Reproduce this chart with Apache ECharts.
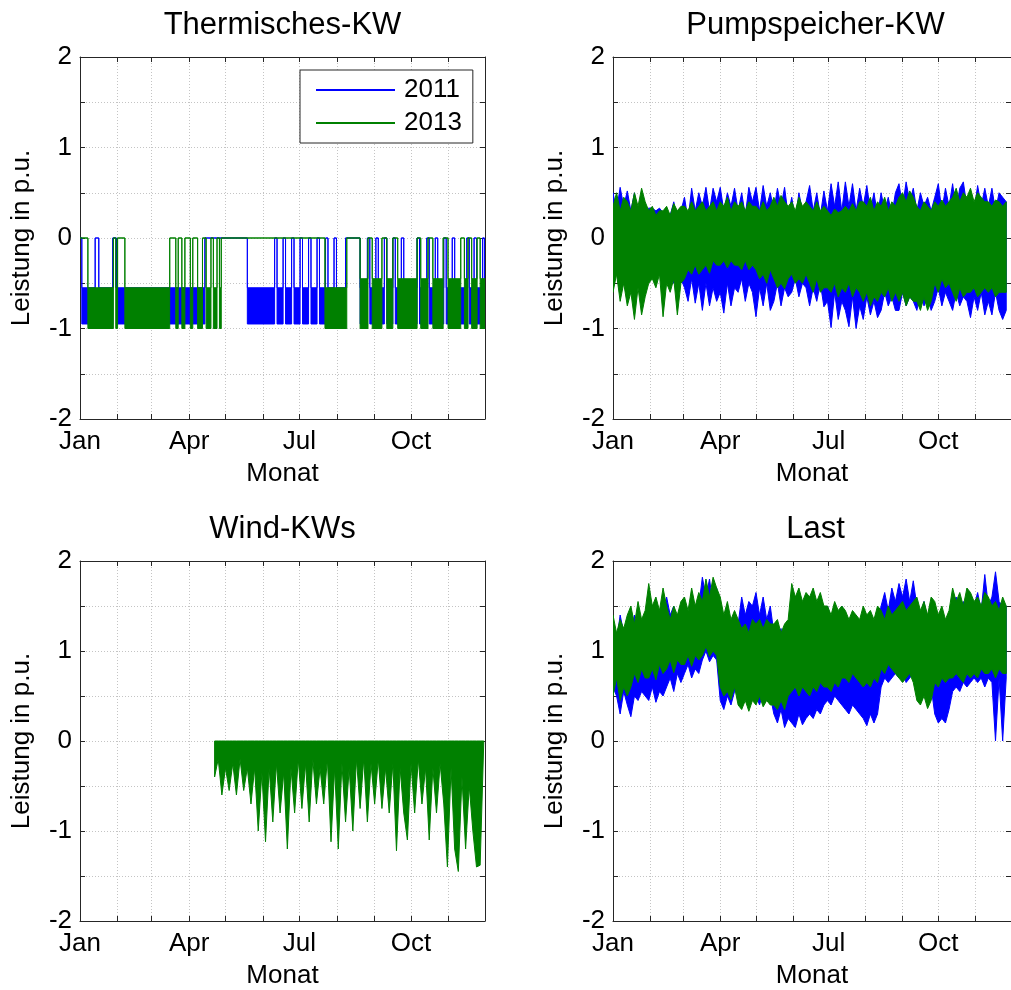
<!DOCTYPE html>
<html><head><meta charset="utf-8">
<script src="https://cdn.jsdelivr.net/npm/echarts@6/dist/echarts.min.js"></script>
<style>html,body{margin:0;padding:0;overflow:hidden;background:#fff}#chart{width:1011px;height:990px}</style>
</head><body><div id="chart"></div>
<script>
// ---------- axis data ----------
const monthTickDays = [0,31,59,90,120,151,181,212,243,273,304,334];
const monthLabelDays = [0,90,181,273];
const monthLabelNames = ['Jan','Apr','Jul','Oct'];
const plotTitles = ['Thermisches-KW','Pumpspeicher-KW','Wind-KWs','Last'];
const seriesNames = ['2011','2013'];
const xAxisName = 'Monat';
const yAxisName = 'Leistung in p.u.';

// ---------- Thermisches-KW (transition day, level from that day on) ----------
const therm2011Days = [0,1.5,12.5,15.5,27,30,103,138,160.5,162.5,167.5,169.5,174.5,176.5,181.5,183.5,188.5,190.5,195.5,197.5,202.5,204.5,209.5,211.5,219,231,237,239,244,246,251,253,258,260,265,267,278,280,286,288,293,295,300,302,307,309,319,321,325,327,332,333.5,334];
const therm2011Hi = [0,-.55,0,-.55,0,-.55,0,-.55, 0,-.55,0,-.55,0,-.55,0,-.55,0,-.55,0,-.55,0,-.55,0,-.55, 0,-.55,0,-.55,0,-.55,0,-.55,0,-.55,0,-.55, 0,-.55,0,-.55,0,-.55,0,-.55,0,-.55, 0,-.55,0,-.55, 0,-.55,-.55];
const therm2011Lo = [0,-.95,0,-.95,0,-.95,0,-.95, 0,-.95,0,-.95,0,-.95,0,-.95,0,-.95,0,-.95,0,-.95,0,-.95, 0,-.95,0,-.95,0,-.95,0,-.95,0,-.95,0,-.95, 0,-.95,0,-.95,0,-.95,0,-.95,0,-.95, 0,-.95,0,-.95, 0,-.95,-.95];
const therm2013Days = [0,6.5,27.5,29.5,31,37,74,79,81,84,86.5,91,93,97,101,104,108,110,113,115,116.5,202,220,231,237.5,241,249,253,258,262,278,281,287,291,299.5,303.5,314,317,320,323,327.5,330,334];
const therm2013Hi = [0,-.55,0,-.55,0,-.55,0,-.55,0,-.55,0,-.55,0,-.55,0,-.55,0,-.55,0,-.55,0,-.55,0,-.45,0,-.45,0,-.45,0,-.45,0,-.45,0,-.45,0,-.45,0,-.45,0,-.45,0,-.45,-.45];
const therm2013Lo = [0,-1,0,-1,0,-1,0,-1,0,-1,0,-1,0,-1,0,-1,0,-1,0,-1,0,-1,0,-1,0,-1,0,-1,0,-1,0,-1,0,-1,0,-1,0,-1,0,-1,0,-1,-1];

// ---------- sampled envelopes, one sample every 3 days from 1 Jan ----------
const SAMPLE_STEP_DAYS = 3;
const pumpHi2011 = [.5,.3,.56,.35,.52, .3,.5,.25,.48,.3, .33,.33,.3,.33,.28, .3,.25,.4,.2,.3, .45,.2,.55,.3,.5, .35,.56,.3,.55,.4, .56,.3,.5,.35,.55, .3,.5,.25,.56,.4, .56,.3,.58,.35,.5, .3,.55,.35,.56,.25, .45,.2,.5,.3,.4, .58,.3,.5,.25,.52, .3,.6,.35,.62,.3, .62,.35,.6,.3,.55, .35,.58,.3,.5,.25, .5,.3,.45,.25,.5, .6,.35,.62,.4,.55, .3,.5,.35,.45,.3, .45,.6,.3,.55,.35, .6,.3,.55,.62,.35, .5,.3,.58,.35,.55, .35,.55,.3,.5,.45, .4];
const pumpLo2011 = [-.55,-.35,-.6,-.4,-.5, -.45,-.6,-.4,-.55,-.45, -.45,-.4,-.45,-.35,-.45, -.45,-.35,-.5,-.4,-.45, -.55,-.7,-.45,-.72,-.5, -.8,-.5,-.75,-.55,-.7, -.6,-.83,-.5,-.75,-.55, -.6,-.45,-.7,-.5,-.6, -.87,-.55,-.75,-.5,-.8, -.7,-.5,-.75,-.55,-.65, -.6,-.45,-.65,-.5,-.55, -.75,-.55,-.7,-.5,-.76, -.7,-.99,-.6,-.9,-.7, -.8,-.98,-.65,-1,-.75, -.9,-.65,-.85,-.7,-.88, -.8,-.6,-.75,-.65,-.8, -.8,-.6,-.75,-.65,-.7, -.8,-.6,-.75,-.65,-.8, -.7,-.55,-.75,-.6,-.7, -.8,-.6,-.75,-.65,-.7, -.88,-.65,-.8,-.6,-.85, -.7,-.85,-.6,-.8,-.9, -.8];
const pumpHi2013 = [.35,.5,.3,.45,.4, .3,.5,.35,.55,.4, .3,.35,.25,.3,.3, .35,.25,.38,.3,.35, .35,.3,.4,.3,.35, .4,.3,.35,.4,.3, .4,.35,.45,.3,.4, .35,.4,.3,.4,.35, .35,.3,.4,.3,.35, .45,.35,.47,.4,.35, .4,.3,.45,.35,.4, .35,.3,.4,.3,.35, .3,.25,.32,.28,.3, .35,.3,.38,.3,.4, .4,.35,.45,.3,.4, .35,.45,.3,.4,.35, .45,.5,.4,.52,.45, .35,.3,.4,.35,.3, .4,.35,.42,.35,.4, .45,.55,.4,.5,.45, .55,.4,.5,.45,.4, .4,.35,.42,.4,.35, .4];
const pumpLo2013 = [-.6,-.4,-.7,-.5,-.75, -.6,-.9,-.55,-.85,-.65, -.5,-.45,-.55,-.4,-.87, -.5,-.6,-.45,-.85,-.5, -.45,-.35,-.4,-.3,-.4, -.35,-.3,-.39,-.25,-.3, -.3,-.25,-.33,-.25,-.3, -.3,-.35,-.25,-.35,-.3, -.35,-.45,-.4,-.5,-.35, -.45,-.55,-.5,-.56,-.45, -.4,-.5,-.45,-.5,-.4, -.5,-.6,-.45,-.6,-.55, -.55,-.6,-.5,-.65,-.55, -.6,-.5,-.65,-.55,-.6, -.7,-.6,-.75,-.65,-.7, -.6,-.65,-.55,-.7,-.6, -.7,-.6,-.75,-.65,-.7, -.7,-.8,-.65,-.8,-.7, -.5,-.6,-.45,-.55,-.5, -.6,-.7,-.55,-.65,-.6, -.6,-.55,-.65,-.6,-.55, -.6,-.55,-.65,-.6,-.6, -.6];
const lastHi2011 = [1.3,1.1,1.4,1.2,1.35, 1.2,1.4,1.1,1.3,1.2, 1.3,1.2,1.4,1.25,1.3, 1.6,1.4,1.5,1.3,1.45, 1.4,1.3,1.45,1.35,1.5, 1.82,1.6,1.8,1.5,1.7, 1.4,1.2,1.35,1.1,1.3, 1.3,1.6,1.4,1.55,1.5, 1.65,1.4,1.6,1.35,1.5, 1.2,1.1,1.25,1.0,1.2, 1.1,1.3,1.05,1.2,1.15, 1.3,1.5,1.2,1.45,1.3, 1.5,1.35,1.45,1.3,1.5, 1.4,1.2,1.35,1.25,1.3, 1.3,1.2,1.25,1.1,1.3, 1.5,1.65,1.45,1.7,1.55, 1.75,1.6,1.8,1.55,1.78, 1.5,1.4,1.55,1.35,1.45, 1.3,1.2,1.35,1.1,1.25, 1.5,1.6,1.45,1.55,1.4, 1.6,1.5,1.65,1.45,1.85, 1.5,1.6,1.88,1.55,1.5, 1.5];
const lastLo2011 = [.6,.5,.3,.55,.4, .27,.5,.45,.55,.5, .45,.6,.43,.55,.5, .6,.7,.55,.75,.65, .75,.85,.7,.8,.75, .9,1.0,.88,.95,.9, .45,.35,.5,.4,.55, .55,.6,.5,.65,.55, .5,.4,.55,.45,.5, .3,.2,.35,.15,.25, .2,.15,.3,.18,.25, .3,.25,.35,.3,.4, .45,.4,.5,.45,.4, .35,.3,.4,.35,.3, .25,.17,.3,.2,.3, .6,.7,.65,.7,.75, .7,.75,.65,.7,.75, .6,.65,.6,.7,.6, .3,.2,.25,.2,.35, .55,.6,.55,.65,.6, .65,.7,.65,.7,.6, .7,.65,0,.7,0, .7];
const lastHi2013 = [1.4,1.2,1.35,1.25,1.4, 1.5,1.3,1.55,1.35,1.45, 1.75,1.5,1.6,1.45,1.7, 1.5,1.35,1.5,1.4,1.55, 1.6,1.45,1.7,1.5,1.65, 1.55,1.8,1.6,1.82,1.7, 1.6,1.4,1.55,1.35,1.45, 1.35,1.25,1.3,1.2,1.35, 1.3,1.35,1.25,1.35,1.3, 1.3,1.35,1.2,1.3,1.35, 1.75,1.6,1.7,1.55,1.65, 1.6,1.7,1.55,1.65,1.5, 1.5,1.4,1.55,1.45,1.5, 1.45,1.35,1.45,1.4,1.35, 1.5,1.4,1.45,1.35,1.5, 1.45,1.35,1.5,1.4,1.45, 1.5,1.55,1.45,1.5,1.55, 1.6,1.45,1.55,1.4,1.6, 1.55,1.4,1.5,1.35,1.45, 1.7,1.55,1.65,1.5,1.7, 1.65,1.55,1.6,1.5,1.65, 1.6,1.5,1.55,1.45,1.6, 1.5];
const lastLo2013 = [.5,.7,.45,.6,.5, .6,.75,.65,.8,.7, .7,.8,.68,.85,.75, .8,.9,.76,.9,.85, .85,.95,.83,.95,.9, .95,1.05,.94,1.0,.95, .6,.5,.55,.46,.6, .4,.35,.45,.33,.45, .4,.5,.38,.45,.4, .4,.35,.45,.35,.5, .55,.6,.5,.6,.55, .5,.6,.55,.65,.6, .6,.55,.65,.6,.7, .7,.65,.75,.7,.65, .6,.65,.6,.7,.65, .8,.75,.85,.8,.75, .7,.65,.7,.75,.65, .45,.4,.5,.36,.45, .65,.6,.7,.65,.7, .7,.75,.7,.65,.75, .7,.75,.7,.8,.75, .75,.8,.7,.8,.75, .75];

// ---------- Wind-KWs 2013: lower envelope every 3 days from day 111, upper edge at 0 ----------
const windStartDay = 111;
const windLo2013 = [-.4,-.2,-.6,-.3,-.55, -.25,-.6,-.2,-.55,-.3, -.7,-.3,-1.0,-.35,-1.12, -.3,-.9,-.25,-.8,-.35, -1.2,-.3,-.8,-.2,-.75, -.25,-.9,-.2,-.7,-.3, -.7,-.2,-1.12,-.3,-1.2, -.25,-.9,-.3,-1.0,-.2, -.75,-.2,-.9,-.25,-.7, -.2,-.75,-.3,-.8,-.25, -1.22,-.3,-.8,-1.1,-.25, -.8,-.2,-.7,-.3,-1.1, -.3,-.8,-.25,-.7,-1.4, -.3,-1.2,-1.45,-.4,-1.2, -.5,-1.0,-1.4,-1.38,0];

// ---------- style ----------
const FONT = '"Liberation Sans", Arial, Helvetica, sans-serif';
const AXC = '#262626';
const GRIDC = '#c4c4c4';
const BLUE = '#0000ff', GREEN = '#008000';

const gridBoxes = [
  {left:80, top:57, width:405, height:362},
  {left:613, top:57, width:405, height:362},
  {left:80, top:561, width:405, height:361},
  {left:613, top:561, width:405, height:361}
];
const titlePos = [[282.5,10],[815.5,10],[282.5,514],[815.5,514]];

function stepBand(days, hi, lo) {
  return function (api) {
    const up = [], dn = [];
    for (let k = 0; k < days.length; k++) {
      up.push(api.coord([days[k], hi[k]]));
      dn.push(api.coord([days[k], lo[k]]));
      if (k < days.length - 1) {
        up.push(api.coord([days[k + 1], hi[k]]));
        dn.push(api.coord([days[k + 1], lo[k]]));
      }
    }
    return up.concat(dn.reverse());
  };
}
function sampledBand(startDay, hi, lo) {
  return function (api) {
    const up = [], dn = [];
    for (let i = 0; i < lo.length; i++) {
      const d = startDay + i * SAMPLE_STEP_DAYS;
      up.push(api.coord([d, hi ? hi[i] : 0]));
      dn.push(api.coord([d, lo[i]]));
    }
    return up.concat(dn.reverse());
  };
}
function bandSeries(name, color, gi, build) {
  return {
    type: 'custom', name: name, coordinateSystem: 'cartesian2d',
    xAxisIndex: 2 * gi, yAxisIndex: 2 * gi, data: [[0, 0]],
    itemStyle: {color: color}, silent: true, animation: false,
    renderItem: function (params, api) {
      const cs = params.coordSys;
      return {
        type: 'polygon', shape: {points: build(api)},
        style: {fill: color, stroke: color, lineWidth: 1},
        clipPath: {type: 'rect', shape: {x: cs.x, y: cs.y, width: cs.width, height: cs.height}}
      };
    }
  };
}

const xAxes = [], yAxes = [];
gridBoxes.forEach(function (g, gi) {
  xAxes.push({
    type: 'value', gridIndex: gi, position: 'bottom', min: 0, max: 334,
    name: xAxisName, nameLocation: 'middle', nameGap: 42,
    nameTextStyle: {fontSize: 26, color: '#000', fontFamily: FONT},
    axisLine: {show: true, onZero: false, lineStyle: {color: AXC, width: 1}},
    axisTick: {show: true, inside: true, length: 5, customValues: monthTickDays, lineStyle: {color: AXC}},
    axisLabel: {show: true, customValues: monthLabelDays, margin: 10, fontSize: 26, color: '#000', fontFamily: FONT,
      formatter: function (v) { const i = monthLabelDays.indexOf(v); return i >= 0 ? monthLabelNames[i] : ''; }},
    splitLine: {show: true, lineStyle: {color: GRIDC, type: [1, 2], width: 1}}
  });
  xAxes.push({
    type: 'value', gridIndex: gi, position: 'top', min: 0, max: 334,
    axisLine: {show: true, onZero: false, lineStyle: {color: AXC, width: 1}},
    axisTick: {show: true, inside: true, length: 5, customValues: monthTickDays, lineStyle: {color: AXC}},
    axisLabel: {show: false}, splitLine: {show: false}
  });
  yAxes.push({
    type: 'value', gridIndex: gi, position: 'left', min: -2, max: 2, interval: 0.5,
    name: yAxisName, nameLocation: 'middle', nameGap: 45, nameRotate: 90,
    nameTextStyle: {fontSize: 26, color: '#000', fontFamily: FONT},
    axisLine: {show: true, onZero: false, lineStyle: {color: AXC, width: 1}},
    axisTick: {show: true, inside: true, length: 5, lineStyle: {color: AXC}},
    axisLabel: {show: true, margin: 8, fontSize: 26, color: '#000', fontFamily: FONT,
      formatter: function (v) { return Number.isInteger(v) ? String(v) : ''; }},
    splitLine: {show: true, lineStyle: {color: GRIDC, type: [1, 2], width: 1}}
  });
  yAxes.push({
    type: 'value', gridIndex: gi, position: 'right', min: -2, max: 2, interval: 0.5,
    axisLine: {show: true, onZero: false, lineStyle: {color: AXC, width: 1}},
    axisTick: {show: true, inside: true, length: 5, lineStyle: {color: AXC}},
    axisLabel: {show: false}, splitLine: {show: false}
  });
});

const series = [
  bandSeries(seriesNames[0], BLUE, 0, stepBand(therm2011Days, therm2011Hi, therm2011Lo)),
  bandSeries(seriesNames[1], GREEN, 0, stepBand(therm2013Days, therm2013Hi, therm2013Lo)),
  bandSeries(seriesNames[0], BLUE, 1, sampledBand(0, pumpHi2011, pumpLo2011)),
  bandSeries(seriesNames[1], GREEN, 1, sampledBand(0, pumpHi2013, pumpLo2013)),
  bandSeries(seriesNames[1], GREEN, 2, sampledBand(windStartDay, null, windLo2013)),
  bandSeries(seriesNames[0], BLUE, 3, sampledBand(0, lastHi2011, lastLo2011)),
  bandSeries(seriesNames[1], GREEN, 3, sampledBand(0, lastHi2013, lastLo2013))
];

const chart = echarts.init(document.getElementById('chart'), null, {renderer: 'canvas'});
chart.setOption({
  animation: false,
  backgroundColor: '#fff',
  title: plotTitles.map(function (t, i) {
    return {text: t, left: titlePos[i][0], top: titlePos[i][1], textAlign: 'center', padding: 0,
      textStyle: {fontSize: 31, fontWeight: 'normal', color: '#000', fontFamily: FONT}};
  }),
  legend: {
    data: [{name: seriesNames[0], icon: 'rect'}, {name: seriesNames[1], icon: 'rect'}],
    orient: 'vertical', left: 300, top: 70, padding: [7, 11, 7, 16], itemGap: 7,
    itemWidth: 79, itemHeight: 2, selectedMode: false,
    borderColor: AXC, borderWidth: 1, backgroundColor: '#fff',
    textStyle: {fontSize: 26, color: '#000', fontFamily: FONT, padding: [0, 0, 0, 4]}
  },
  grid: gridBoxes,
  xAxis: xAxes,
  yAxis: yAxes,
  series: series
});
</script></body></html>
